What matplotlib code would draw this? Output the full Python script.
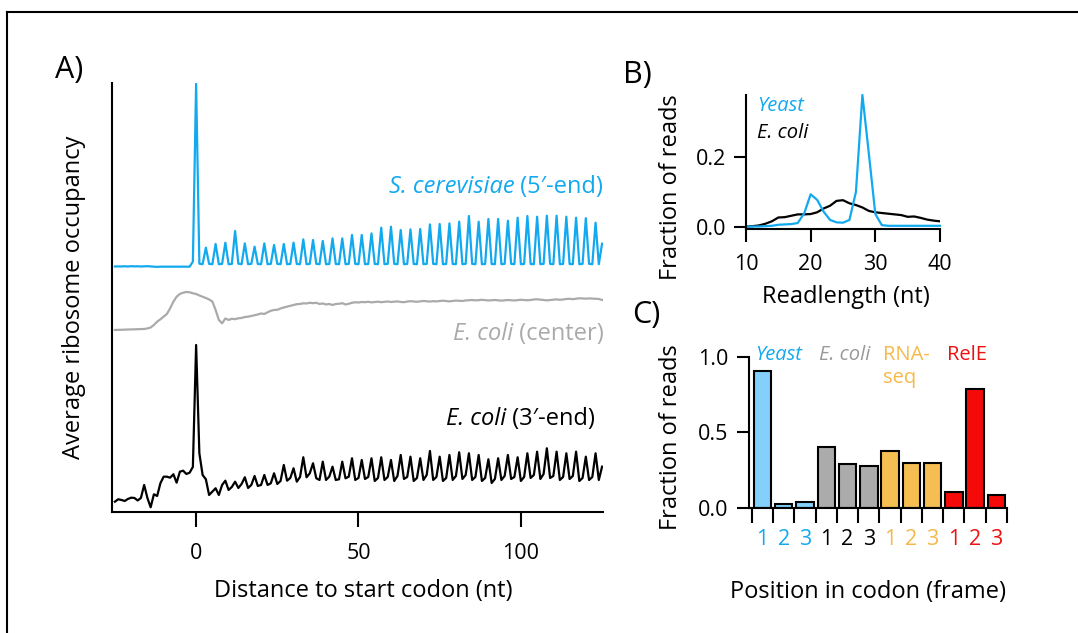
import numpy as np
import matplotlib.pyplot as plt
from matplotlib.lines import Line2D

plt.rcParams['font.family'] = ['Open Sans', 'DejaVu Sans']

# A) average ribosome occupancy around the start codon, -25..125 nt
pos = np.arange(-25, 126)
yeast_5end = [
    0.02, 0.03, 0.02, 0.04, 0.02, 0.05, 0.03, 0.04, 0.02, 0.03, 0.05, 0.02,
    0.0, -0.02, 0.0, 0.0, 0.0, 0.0, 0.0, 0.0, 0.0, 0.0, 0.0, 0.0,
    0.5, 18.3,
    0.3, 0.25, 1.9, 0.28, 0.25, 2.27, 0.25, 0.28, 2.4, 0.25, 0.27, 3.57,
    0.3, 0.25, 2.33, 0.25, 0.28, 2.0, 0.27, 0.25, 2.33, 0.25, 0.28, 2.17,
    0.28, 0.25, 2.27, 0.25, 0.27, 2.4, 0.27, 0.25, 2.73, 0.25, 0.28, 2.67,
    0.28, 0.25, 2.57, 0.25, 0.27, 2.83, 0.27, 0.25, 2.83, 0.25, 0.28, 3.17,
    0.28, 0.25, 3.17, 0.25, 0.27, 3.33, 0.27, 0.25, 3.9, 0.25, 0.28, 4.0,
    0.28, 0.25, 3.67, 0.25, 0.27, 3.73, 0.27, 0.25, 3.77, 0.25, 0.28, 4.23,
    0.28, 0.25, 4.27, 0.25, 0.27, 4.33, 0.27, 0.25, 4.5, 0.25, 0.28, 5.07,
    0.28, 0.25, 4.5, 0.25, 0.27, 4.77, 0.27, 0.25, 4.77, 0.25, 0.28, 4.6,
    0.28, 0.25, 4.9, 0.25, 0.27, 5.07, 0.27, 0.25, 5.0, 0.25, 0.28, 5.1,
    0.28, 0.25, 5.1, 0.25, 0.27, 5.0, 0.27, 0.25, 4.9, 0.25, 0.28, 4.85,
    0.28, 0.25, 4.4, 0.25, 2.3,
]
ecoli_center = [
    0.0, 0.01, 0.02, 0.02, 0.03, 0.04, 0.05, 0.07, 0.08,
    0.1, 0.15, 0.25, 0.5, 0.83, 1.07, 1.33, 1.6, 2.17, 2.83, 3.33, 3.6,
    3.73, 3.8, 3.77, 3.67, 3.6, 3.45, 3.33, 3.2, 3.05, 2.85, 2.0, 1.0,
    0.67, 1.15, 1.0, 1.12, 1.08, 1.17, 1.2, 1.3, 1.33, 1.4, 1.48, 1.55,
    1.65, 1.6, 1.77, 1.92, 2.0, 2.02, 2.15, 2.25, 2.33, 2.42, 2.5, 2.58,
    2.6, 2.67, 2.65, 2.72, 2.68, 2.72, 2.6, 2.65, 2.55, 2.6, 2.5, 2.6,
    2.62, 2.68, 2.55, 2.62, 2.72, 2.77, 2.75, 2.8, 2.78, 2.82, 2.76, 2.8,
    2.83, 2.78, 2.82, 2.85,
    2.8, 2.83, 2.86, 2.8, 2.78, 2.84, 2.88, 2.85, 2.82, 2.86, 2.9, 2.87,
    2.84, 2.88, 2.86, 2.9, 2.93, 2.9, 2.86, 2.9, 2.94, 2.92, 2.9, 2.95,
    2.98, 3.0, 2.96, 2.98, 3.02, 2.99, 2.95, 2.98, 3.0, 2.96, 2.93, 2.97,
    3.0, 2.98, 2.95, 2.98, 3.02, 3.0, 2.97, 3.0, 3.05, 3.07, 3.03, 3.0,
    2.96, 3.0, 3.03, 3.06, 3.02, 3.05, 3.1, 3.12, 3.08, 3.12, 3.17, 3.15,
    3.13, 3.16, 3.14, 3.12, 3.1, 3.0,
]
ecoli_3end = [
    -0.17, 0.07, 0.0, -0.1, 0.1, 0.23, 0.2, -0.05, 0.2, 1.5, 0.2, -0.73,
    0.57, 0.4, 1.67, 2.33, 2.33, 2.23, 2.57, 1.73, 2.83, 2.93, 2.6, 2.73,
    3.3, 15.5,
    4.67, 2.5, 2.07, 0.5, 0.83, 1.17, 0.5, 1.5, 1.93, 1.0, 1.3, 1.83,
    1.2, 1.6, 2.27, 1.2, 1.5, 2.4, 1.4, 1.5, 2.5, 1.5, 1.67, 2.67,
    1.6, 1.9, 3.5, 1.93, 2.2, 3.17, 1.83, 2.3, 4.27, 2.27, 2.67, 3.67,
    2.17, 2.0, 3.83, 2.0, 2.33, 3.33, 2.0, 2.07, 3.83, 2.17, 2.33, 4.17,
    2.0, 2.2, 4.0, 2.1, 2.3, 4.17, 1.9, 2.2, 4.27, 2.0, 2.3, 4.0,
    1.9, 2.4, 4.5, 2.1, 2.3, 4.33, 1.9, 2.2, 4.17, 2.0, 2.5, 4.9,
    2.0, 2.3, 4.33, 1.9, 2.2, 4.5, 2.0, 2.4, 4.77, 2.1, 2.5, 4.67,
    2.0, 2.3, 4.5, 1.9, 2.2, 4.07, 1.7, 2.1, 4.17, 2.0, 2.4, 4.5,
    2.1, 2.3, 4.27, 1.9, 2.3, 4.67, 2.2, 2.5, 4.83, 2.1, 2.6, 5.17,
    2.2, 2.4, 4.83, 2.0, 2.3, 4.67, 2.1, 2.4, 4.83, 1.9, 2.2, 4.33,
    2.0, 2.3, 4.67, 2.0, 3.33,
]

# B) read length distributions
readlen = np.arange(10, 41)
yeast_len = [0.0, 0.0, 0.0, 0.001, 0.002, 0.005, 0.006, 0.007, 0.01, 0.038,
             0.093, 0.077, 0.043, 0.019, 0.012, 0.011, 0.019, 0.10, 0.38, 0.21,
             0.036, 0.004, 0.002, 0.002, 0.002, 0.002, 0.002, 0.002, 0.002,
             0.002, 0.002]
ecoli_len = [0.0, 0.001, 0.003, 0.008, 0.015, 0.026, 0.027, 0.031, 0.035, 0.035,
             0.036, 0.041, 0.052, 0.06, 0.074, 0.076, 0.067, 0.062, 0.055, 0.045,
             0.041, 0.039, 0.037, 0.035, 0.033, 0.028, 0.029, 0.025, 0.02, 0.017,
             0.015]

# C) fraction of reads per codon position
groups = ['Yeast', 'E. coli', 'RNA-\nseq', 'RelE']
frame_labels = ['1', '2', '3'] * 4
frame_vals = [0.906, 0.026, 0.04, 0.406, 0.29, 0.281,
              0.38, 0.297, 0.297, 0.106, 0.785, 0.088]

blue = '#13A9EF'
grey = '#AAAAAA'
orange = '#F5B94A'
red = '#EE1111'
bar_cols = ['#82D0FB', '#ABABAB', '#F5BE52', '#F50A0A']
lab_cols = [blue, '#999999', orange, red]
tick_cols = [blue, 'black', orange, red]

fig = plt.figure(figsize=(10.78, 6.33), dpi=100)
fs_lab = 17      # axis titles and trace labels
fs_leg = 14.5    # small in-panel labels
fs_tick = 15.5


def clean(ax):
    for s in ['top', 'right']:
        ax.spines[s].set_visible(False)
    for s in ['left', 'bottom']:
        ax.spines[s].set_linewidth(1.5)


def mixed(ax, x, y, ital, plain, color):
    r = fig.canvas.get_renderer()
    t = ax.text(x, y, ' ' + plain, ha='right', va='baseline', color=color,
                fontsize=fs_lab, transform=ax.transAxes)
    bb = t.get_window_extent(r)
    x0 = ax.transAxes.inverted().transform((bb.x0, bb.y0))[0]
    ax.text(x0, y, ital, ha='right', va='baseline', color=color, style='italic',
            fontsize=fs_lab, transform=ax.transAxes)


# ---- A
ax = fig.add_axes([0.1036, 0.1912, 0.4555, 0.6777])
ax.plot(pos, np.array(yeast_5end) + 24.53, color=blue, lw=1.6)
ax.plot(pos, np.array(ecoli_center) + 18.2, color=grey, lw=1.6)
ax.plot(pos, np.array(ecoli_3end) + 1.2, color='black', lw=1.6)
ax.set_xlim(-26, 125.2)
ax.set_ylim(0, 42.9)
clean(ax)
ax.set_yticks([])
ax.set_xticks([0, 50, 100])
ax.tick_params(axis='x', length=11, width=1.5, labelsize=fs_tick, pad=11)
ax.set_ylabel('Average ribosome occupancy', fontsize=fs_lab)
ax.yaxis.set_label_coords(-0.052, 0.5)
ax.set_xlabel('Distance to start codon (nt)', fontsize=fs_lab)
ax.xaxis.set_label_coords(0.512, -0.156)
mixed(ax, 1.0006, 0.7436, 'S. cerevisiae', '(5\u2032-end)', blue)
mixed(ax, 1.0026, 0.401, 'E. coli', '(center)', grey)
mixed(ax, 0.985, 0.203, 'E. coli', '(3\u2032-end)', 'black')

# ---- B
bx = fig.add_axes([0.692, 0.6378, 0.18, 0.2122])
bx.plot(readlen, ecoli_len, color='black', lw=1.6)
bx.plot(readlen, yeast_len, color=blue, lw=1.6, clip_on=False)
bx.set_xlim(10, 40)
bx.set_ylim(-0.008, 0.38)
clean(bx)
bx.set_xticks([10, 20, 30, 40])
bx.set_yticks([0.0, 0.2])
bx.set_yticklabels(['0.0', '0.2'])
bx.tick_params(length=9, width=1.5, labelsize=fs_tick)
bx.tick_params(axis='x', pad=9)
bx.tick_params(axis='y', pad=5)
bx.set_ylabel('Fraction of reads', fontsize=fs_lab)
bx.yaxis.set_label_coords(-0.325, 0.317)
bx.set_xlabel('Readlength (nt)', fontsize=fs_lab)
bx.xaxis.set_label_coords(0.515, -0.415)
bx.text(0.055, 0.879, 'Yeast', color=blue, style='italic', fontsize=fs_leg,
        va='baseline', transform=bx.transAxes)
bx.text(0.055, 0.68, 'E. coli', color='black', style='italic', fontsize=fs_leg,
        va='baseline', transform=bx.transAxes)

# ---- C
cx = fig.add_axes([0.6951, 0.197, 0.239, 0.2395])
xs = np.arange(len(frame_vals))
cols = [bar_cols[i // 3] for i in xs]
cx.bar(xs, frame_vals, width=0.82, color=cols, edgecolor='black', linewidth=1.5)
cx.set_xlim(-0.62, 11.5)
cx.set_ylim(0, 1.0)
clean(cx)
cx.set_yticks([0.0, 0.5, 1.0])
cx.set_yticklabels(['0.0', '0.5', '1.0'])
cx.set_xticks(xs)
cx.set_xticklabels(frame_labels)
for i, t in enumerate(cx.get_xticklabels()):
    t.set_color(tick_cols[i // 3])
cx.set_xticks(np.arange(-0.5, 12, 1), minor=True)
cx.tick_params(axis='x', which='major', length=0, pad=15, labelsize=fs_tick)
cx.tick_params(axis='x', which='minor', length=11, width=1.5)
cx.tick_params(axis='y', length=9, width=1.5, pad=6, labelsize=fs_tick)
cx.set_ylabel('Fraction of reads', fontsize=fs_lab)
cx.yaxis.set_label_coords(-0.257, 0.467)
cx.set_xlabel('Position in codon (frame)', fontsize=fs_lab)
cx.xaxis.set_label_coords(0.459, -0.473)
for g, name in enumerate(groups):
    cx.text(3 * g - 0.33, 1.077, name, color=lab_cols[g], fontsize=fs_leg,
            style='italic' if g < 2 else 'normal', va='top', ha='left',
            linespacing=1.2, transform=cx.get_xaxis_transform())

# panel letters
fig.text(0.051, 0.913, 'A)', fontsize=22, va='top', ha='left')
fig.text(0.578, 0.905, 'B)', fontsize=22, va='top', ha='left')
fig.text(0.586, 0.526, 'C)', fontsize=22, va='top', ha='left')

# frame around the figure (top and left edges)
fig.add_artist(Line2D([0.0065, 1.0], [0.9818, 0.9818], color='black', lw=1.5))
fig.add_artist(Line2D([0.0065, 0.0065], [0.0, 0.9818], color='black', lw=1.5))

fig.savefig('out.png', dpi=100)
